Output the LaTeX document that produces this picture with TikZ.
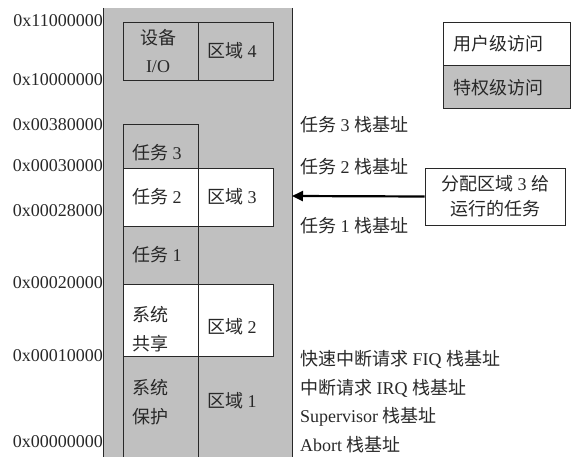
\documentclass[tikz,border=0pt]{standalone}
\usepackage{fontspec}
\setmainfont{Liberation Serif}
\newfontfamily\cjk{Noto Sans CJK SC}
\newcommand{\zh}[1]{{\cjk #1}}
\usetikzlibrary{arrows.meta}
\definecolor{memgray}{RGB}{192,192,192}
\definecolor{ink}{RGB}{40,40,40}
\begin{document}
\begin{tikzpicture}[x=1pt,y=-1pt,
  font=\fontsize{18}{21}\selectfont,
  every node/.style={text=ink, inner sep=0pt},
  frame/.style={draw=ink, line width=0.9pt},
  addr/.style={anchor=east},
  stacklbl/.style={anchor=west},
  celltxt/.style={anchor=west},
  legendbox/.style={frame, minimum height=43pt, text width=107pt, inner xsep=10pt, align=left},
  annobox/.style={frame, fill=white, minimum width=140pt, minimum height=57pt, align=center},
  bigarrow/.style={draw=black, line width=2.2pt, -{Triangle[length=11pt,width=10pt]}}
]
\useasboundingbox (0,0) rectangle (571,457);
% memory column
\fill[memgray] (103,8) rectangle (292,457);
\draw[frame] (103.5,8) -- (103.5,457);
\draw[frame] (292,8) -- (292,457);
\coordinate (memR) at (292,196);
% device region
\draw[frame] (123,22) rectangle (198,80);
\draw[frame] (198,22) rectangle (273,80);
% task stack column
\draw[frame] (123,457) -- (123,124) -- (198,124) -- (198,457);
\filldraw[frame, fill=white] (123,168) rectangle (273,226);
\draw[frame] (198,168) -- (198,226);
\filldraw[frame, fill=white] (123,284) rectangle (273,356);
\draw[frame] (198,284) -- (198,356);
% cell texts
\node (dev1) at (158,38) {\zh{设备}};
\node (dev2) at (158,67) {I/O};
\node[celltxt] (r4) at (207,51) {\zh{区域} 4};
\node[celltxt] (t3) at (132,153) {\zh{任务} 3};
\node[celltxt] (t2) at (132,197) {\zh{任务} 2};
\node[celltxt] (r3) at (207,197) {\zh{区域} 3};
\node[celltxt] (t1) at (132,255) {\zh{任务} 1};
\node[celltxt] (sh1) at (132,315) {\zh{系统}};
\node[celltxt] (sh2) at (132,343.5) {\zh{共享}};
\node[celltxt] (r2) at (207,327) {\zh{区域} 2};
\node[celltxt] (pr1) at (132,388) {\zh{系统}};
\node[celltxt] (pr2) at (132,417) {\zh{保护}};
\node[celltxt] (r1) at (207,401) {\zh{区域} 1};
% addresses
\node[addr] (a1) at (103,21) {0x11000000};
\node[addr] (a2) at (103,80) {0x10000000};
\node[addr] (a3) at (103,124.5) {0x00380000};
\node[addr] (a4) at (103,166) {0x00030000};
\node[addr] (a5) at (103,211) {0x00028000};
\node[addr] (a6) at (103,283) {0x00020000};
\node[addr] (a7) at (103,356) {0x00010000};
\node[addr] (a8) at (103,442) {0x00000000};
% stack base labels
\node[stacklbl] (s3) at (300,125) {\zh{任务} 3 \zh{栈基址}};
\node[stacklbl] (s2) at (300,167) {\zh{任务} 2 \zh{栈基址}};
\node[stacklbl] (s1) at (300,226) {\zh{任务} 1 \zh{栈基址}};
\node[stacklbl] (sf) at (300,359) {\zh{快速中断请求} FIQ \zh{栈基址}};
\node[stacklbl] (si) at (300,388) {\zh{中断请求} IRQ \zh{栈基址}};
\node[stacklbl] (ss) at (300,417) {Supervisor \zh{栈基址}};
\node[stacklbl] (sa) at (300,445) {Abort \zh{栈基址}};
% legend
\node[legendbox, fill=white] (user) at (506.5,43.5) {\zh{用户级访问}};
\node[legendbox, fill=memgray, anchor=north] (priv) at (user.south) {\zh{特权级访问}};
% annotation
\node[annobox] (anno) at (495,196.5) {\zh{分配区域} 3 \zh{给}\\[4pt]\zh{运行的任务}};
\draw[bigarrow] (anno.west) -- (memR);
\end{tikzpicture}
\end{document}
